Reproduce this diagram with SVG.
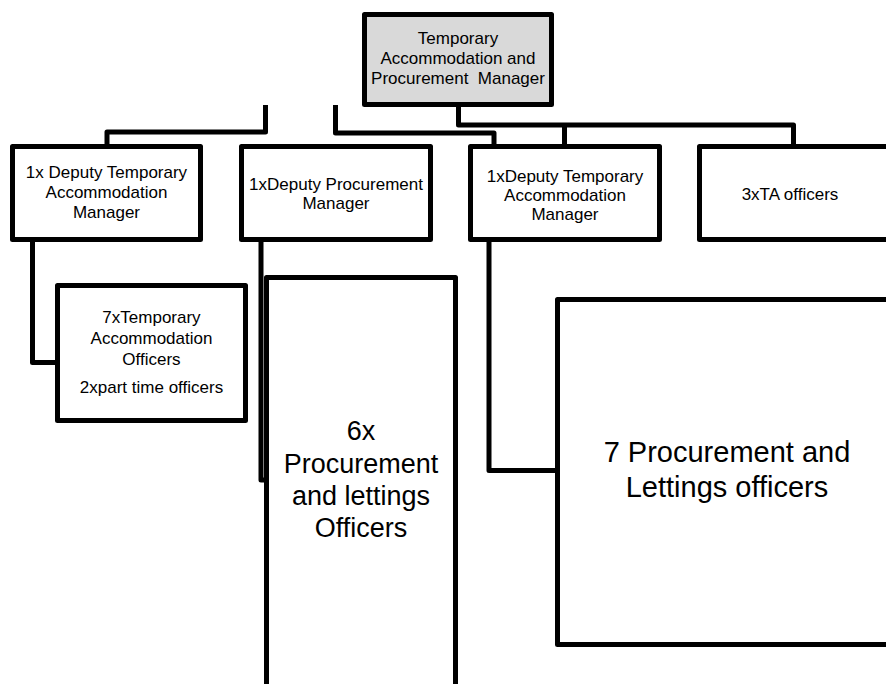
<svg xmlns="http://www.w3.org/2000/svg" width="886" height="684" viewBox="0 0 886 684">
<style>
.box{fill:#ffffff;stroke:#000000;stroke-width:5;stroke-linejoin:round}
.top{fill:#d9d9d9}
.ln{fill:none;stroke:#000000;stroke-width:5;stroke-linejoin:round;stroke-linecap:butt}
text{font-family:"Liberation Sans",Arial,sans-serif;fill:#000000;text-anchor:middle;white-space:pre}
.s{font-size:17px}
.l{font-size:27px}
.xl{font-size:29px}
</style>
<rect width="886" height="684" fill="#ffffff"/>
<g id="connectors">
<polyline class="ln" points="458.5,107 458.5,125 793.5,125 793.5,146"/>
<polyline class="ln" points="564.5,125 564.5,146"/>
<polyline class="ln" points="335.5,105 335.5,133 494,133 494,146"/>
<polyline class="ln" points="265.5,105 265.5,132 107,132 107,146"/>
<polyline class="ln" points="32.5,240 32.5,362.5 57,362.5"/>
<polyline class="ln" points="261,240 261,480 266,480"/>
<polyline class="ln" points="489,240 489,470.5 557,470.5"/>
</g>
<g id="n0">
<rect class="box top" x="364.5" y="14.5" width="187" height="90"/>
<text class="s" x="458" y="44">Temporary</text>
<text class="s" x="458" y="64">Accommodation and</text>
<text class="s" x="458" y="84">Procurement  Manager</text>
</g>
<g id="n1">
<rect class="box" x="12.5" y="146.5" width="188" height="93"/>
<text class="s" x="106.5" y="178">1x Deputy Temporary</text>
<text class="s" x="106.5" y="198">Accommodation</text>
<text class="s" x="106.5" y="218">Manager</text>
</g>
<g id="n2">
<rect class="box" x="241.5" y="146.5" width="189" height="93"/>
<text class="s" x="336" y="190">1xDeputy Procurement</text>
<text class="s" x="336" y="209">Manager</text>
</g>
<g id="n3">
<rect class="box" x="470.5" y="146.5" width="189" height="93"/>
<text class="s" x="565" y="182">1xDeputy Temporary</text>
<text class="s" x="565" y="201">Accommodation</text>
<text class="s" x="565" y="220">Manager</text>
</g>
<g id="n4">
<rect class="box" x="699.5" y="146.5" width="200" height="93"/>
<text class="s" x="790" y="200">3xTA officers</text>
</g>
<g id="n5">
<rect class="box" x="57.5" y="285.5" width="188" height="135"/>
<text class="s" x="151.5" y="323">7xTemporary</text>
<text class="s" x="151.5" y="344">Accommodation</text>
<text class="s" x="151.5" y="365">Officers</text>
<text class="s" x="151.5" y="393">2xpart time officers</text>
</g>
<g id="n6">
<rect class="box" x="266.5" y="277.5" width="189" height="420"/>
<text class="l" x="361" y="440">6x</text>
<text class="l" x="361" y="473">Procurement</text>
<text class="l" x="361" y="505">and lettings</text>
<text class="l" x="361" y="537">Officers</text>
</g>
<g id="n7">
<rect class="box" x="557.5" y="299.5" width="340" height="345"/>
<text class="xl" x="727" y="462">7 Procurement and</text>
<text class="xl" x="727" y="497">Lettings officers</text>
</g>
</svg>
